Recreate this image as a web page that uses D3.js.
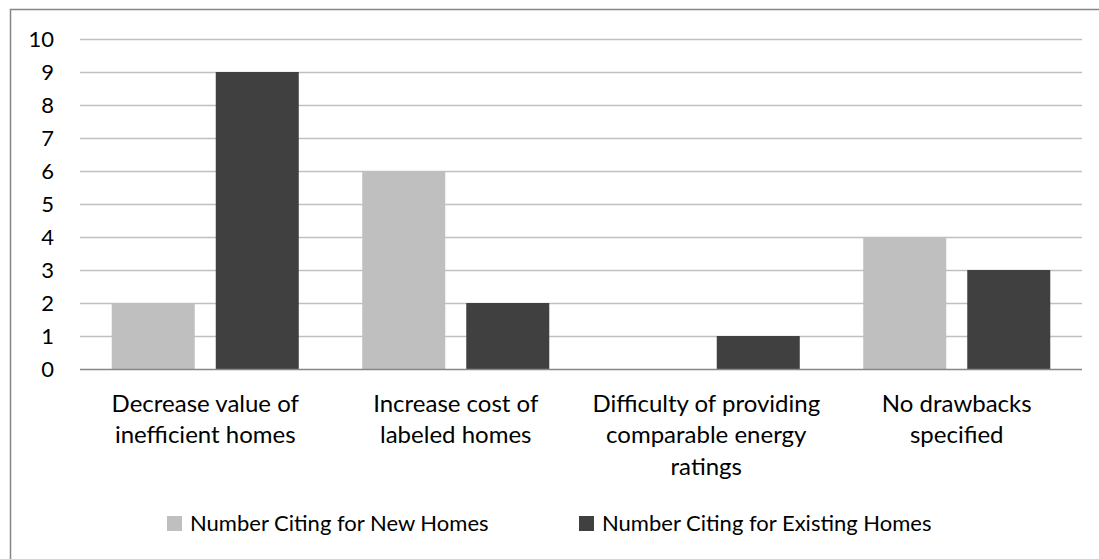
<!DOCTYPE html>
<html>
<head>
<meta charset="utf-8">
<style>
  body { margin: 0; background: #fff; }
  svg text { font-family: Lato, "Open Sans", sans-serif; fill: #000; }
</style>
</head>
<body>
<svg width="1099" height="559"></svg>
<script src="https://cdn.jsdelivr.net/npm/d3@7"></script>
<script>
// data
var categories = [
  ["Decrease value of", "inefficient homes"],
  ["Increase cost of", "labeled homes"],
  ["Difficulty of providing", "comparable energy", "ratings"],
  ["No drawbacks", "specified"]
];
var seriesNames = ["Number Citing for New Homes", "Number Citing for Existing Homes"];
var newHomes = [2, 6, 0, 4];
var existingHomes = [9, 2, 1, 3];
var yTicks = [0, 1, 2, 3, 4, 5, 6, 7, 8, 9, 10];

var colors = ["#bfbfbf", "#404040"];

var svg = d3.select("svg");

// outer chart border (runs off the bottom/right of the picture)
svg.append("rect")
  .attr("x", 10.5).attr("y", 9.5)
  .attr("width", 1100).attr("height", 560)
  .attr("fill", "none").attr("stroke", "#868686").attr("stroke-width", 1.5);

var plotL = 80, plotR = 1082, plotT = 39, plotB = 369;

var x0 = d3.scaleBand().domain(d3.range(categories.length)).range([plotL, plotR]);
var x1 = d3.scaleBand().domain([0, 1]).range([0, x0.bandwidth()])
  .paddingInner(0.202).paddingOuter(0.305);
var y = d3.scaleLinear().domain([0, 10]).range([plotB, plotT]);

// gridlines
svg.append("g").selectAll("line").data(yTicks.slice(1)).enter().append("line")
  .attr("x1", plotL).attr("x2", plotR)
  .attr("y1", function(d) { return Math.round(y(d)) + 0.5; })
  .attr("y2", function(d) { return Math.round(y(d)) + 0.5; })
  .attr("stroke", "#c0c0c0").attr("stroke-width", 1.3);

// y labels
svg.append("g").selectAll("text").data(yTicks).enter().append("text")
  .attr("x", 54).attr("y", function(d) { return y(d); })
  .attr("dy", "0.36em").attr("text-anchor", "end")
  .style("font-size", "22px")
  .text(function(d) { return d; });

// bars
var rows = categories.map(function(c, i) { return [newHomes[i], existingHomes[i]]; });
var grp = svg.append("g").selectAll("g").data(rows).enter().append("g")
  .attr("transform", function(d, i) { return "translate(" + x0(i) + ",0)"; });
grp.selectAll("rect").data(function(d) { return d; }).enter().append("rect")
  .attr("x", function(d, j) { return x1(j); })
  .attr("width", x1.bandwidth())
  .attr("y", function(d) { return y(d); })
  .attr("height", function(d) { return y(0) - y(d); })
  .attr("fill", function(d, j) { return colors[j]; });

// baseline
svg.append("line")
  .attr("x1", plotL).attr("x2", plotR)
  .attr("y1", Math.round(y(0)) + 0.5).attr("y2", Math.round(y(0)) + 0.5)
  .attr("stroke", "#868686").attr("stroke-width", 1.5);

// category labels
var cl = svg.append("g").selectAll("text").data(categories).enter().append("text")
  .attr("text-anchor", "middle")
  .style("font-size", "24px")
  .attr("transform", function(d, i) { return "translate(" + (x0(i) + x0.bandwidth() / 2) + ",0)"; });
cl.selectAll("tspan").data(function(d) { return d; }).enter().append("tspan")
  .attr("x", 0)
  .attr("y", function(d, k) { return 403 + k * 31.5; })
  .attr("dy", "0.36em")
  .text(function(d) { return d; });

// legend
var legendX = [167, 579];
var lg = svg.append("g").selectAll("g").data(seriesNames).enter().append("g")
  .attr("transform", function(d, i) { return "translate(" + legendX[i] + ",523)"; });
lg.append("rect").attr("x", 0).attr("y", -7).attr("width", 15).attr("height", 15)
  .attr("fill", function(d, i) { return colors[i]; });
lg.append("text").attr("x", 23).attr("y", 0).attr("dy", "0.36em")
  .style("font-size", "22px")
  .text(function(d) { return d; });
</script>
</body>
</html>
